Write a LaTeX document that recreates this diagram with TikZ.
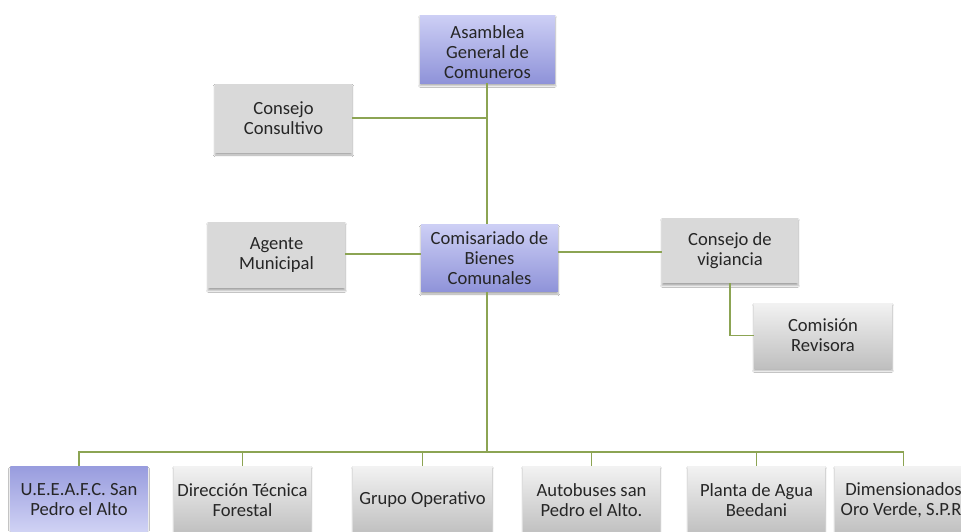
\documentclass[tikz,border=0pt]{standalone}
\usepackage{fontspec}
\setmainfont{Carlito}
\usetikzlibrary{shadows.blur}
\definecolor{linkgreen}{HTML}{8CA453}
\definecolor{txt}{HTML}{262626}
\definecolor{lavtop}{HTML}{CDCFF5}
\definecolor{lavbot}{HTML}{8F93D9}
\definecolor{lavdark}{HTML}{989CDE}
\definecolor{lavlight}{HTML}{D2D4F5}
\newcommand{\dropline}{\rule{0pt}{19pt}}
\tikzset{
  box/.style={minimum width=137pt, minimum height=66pt, inner sep=0pt,
    align=center, text=txt, font=\fontsize{18.6}{20}\selectfont,
    blur shadow={shadow xshift=0pt, shadow yshift=-2.5pt, shadow blur steps=4, shadow opacity=35}},
  flatgray/.style={box, fill=black!15},
  fadegray/.style={box, top color=black!5, bottom color=black!25},
  blueup/.style={box, top color=lavtop, bottom color=lavbot},
  bluedown/.style={box, top color=lavdark, bottom color=lavlight},
  link/.style={draw=linkgreen, line width=1.5pt},
}
\begin{document}
\begin{tikzpicture}[x=1pt, y=-1pt]
  \fill[white] (0,0) rectangle (961,531);
  \useasboundingbox (0,0) rectangle (961,531);
  \begin{scope}
  \clip (0,0) rectangle (961,531);

  % top of the hierarchy
  \node[blueup, minimum width=135pt, minimum height=68pt] (asm) at (487.5,49) {\dropline Asamblea\\General de\\Comuneros};
  \node[flatgray, minimum height=69pt] (cc) at (283.5,118) {Consejo\\Consultivo};

  % second level
  \node[flatgray] (am) at (276.5,255) {Agente\\Municipal};
  \node[blueup, minimum height=67pt] (cbc) at (489.5,258) {Comisariado de\\Bienes\\Comunales};
  \node[flatgray, minimum width=136pt, minimum height=65pt] (cv) at (730,250.5) {Consejo de\\vigiancia};
  \node[fadegray, minimum width=138pt, minimum height=65pt] (cr) at (823,335.5) {Comisión\\Revisora};

  % bottom row (runs past the lower and right edges)
  \node[bluedown, minimum height=68pt] (b1) at (79,500) {U.E.E.A.F.C. San\\Pedro el Alto};
  \node[fadegray, minimum height=68pt] (b2) at (242.5,500) {Dirección Técnica\\Forestal};
  \node[fadegray, minimum width=139pt, minimum height=68pt] (b3) at (422.5,500) {Grupo Operativo};
  \node[fadegray, minimum height=68pt] (b4) at (591.5,500) {Autobuses san\\Pedro el Alto.};
  \node[fadegray, minimum height=68pt] (b5) at (756.5,500) {Planta de Agua\\Beedani};
  \node[fadegray, minimum height=68pt] (b6) at (903.5,500) {Dimensionados\\Oro Verde, S.P.R.};

  \coordinate (bus) at (487,452);
  \end{scope}

  % connectors
  \draw[link] (asm.south -| bus) -- (cbc.north -| bus);
  \draw[link] (cc.east) -- (cc.east -| bus);
  \draw[link] (cbc.south -| bus) -- (bus);
  \draw[link] (am.east |- 0,254) -- (cbc.west |- 0,254);
  \draw[link] (cbc.east |- 0,252) -- (cv.west |- 0,252);
  \draw[link] (cv.south) |- (cr.west);
  \draw[link] (b1.north) -- (b1.north |- bus) -- (b6.north |- bus) -- (b6.north);
  \foreach \b in {b2,b3,b4,b5}
    \draw[link] (\b.north) -- (\b.north |- bus);
\end{tikzpicture}
\end{document}
